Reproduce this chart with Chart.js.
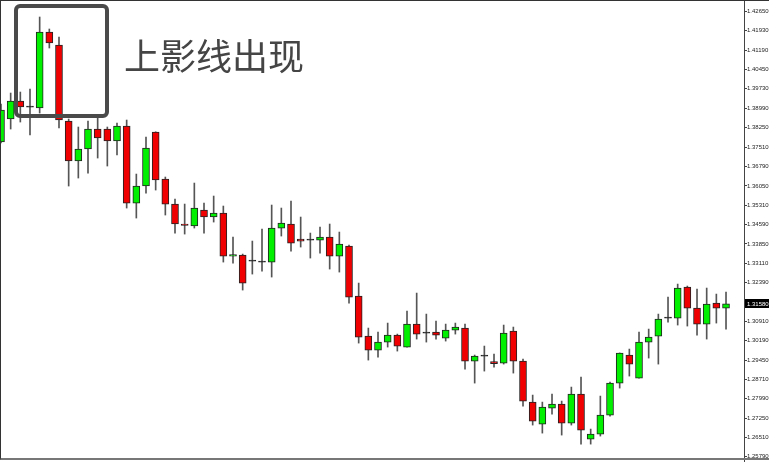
<!DOCTYPE html>
<html>
<head>
<meta charset="utf-8">
<script src="https://cdn.jsdelivr.net/npm/chart.js@4/dist/chart.umd.min.js"></script>
<style>
  html, body { margin: 0; padding: 0; background: #fff; }
  #wrap { position: relative; width: 769px; height: 462px; overflow: hidden; }
  #frame { position: absolute; left: 0; top: 0; width: 769px; height: 460px; box-sizing: border-box;
           border-left: 1px solid #333; border-top: 1px solid #333; border-bottom: 2px solid #777; pointer-events: none; }
  #box { position: absolute; left: 14px; top: 4px; width: 95px; height: 114px; box-sizing: border-box;
         border: 4px solid #4a4a4a; border-radius: 6px; }
  #note { position: absolute; left: 124px; top: 36px; font: 400 36px/1 "Noto Sans CJK SC", sans-serif; color: #454545; white-space: nowrap; }
</style>
</head>
<body>
<div id="wrap">
  <canvas id="chart" width="769" height="462"></canvas>
  <div id="box"></div>
  <div id="note">上影线出现</div>
  <div id="frame"></div>
</div>
<script>
const opens  = [1.37711, 1.38583, 1.39265, 1.39035, 1.39000, 1.41880, 1.41388, 1.38507, 1.36991, 1.37446,
                1.38204, 1.38204, 1.37749, 1.38318, 1.35399, 1.36044, 1.38090, 1.36309, 1.35361, 1.34604,
                1.34528, 1.35134, 1.34869, 1.35020, 1.33391, 1.33429, 1.33201, 1.33163, 1.33163, 1.34452,
                1.34604, 1.34035, 1.33997, 1.33997, 1.34111, 1.33391, 1.33770, 1.31875, 1.30359, 1.29828,
                1.30131, 1.30397, 1.29942, 1.30813, 1.30472, 1.30510, 1.30283, 1.30586, 1.30662, 1.29411,
                1.29601, 1.29392, 1.29335, 1.30548, 1.29411, 1.27857, 1.27023, 1.27630, 1.27781, 1.27061,
                1.28160, 1.26455, 1.26644, 1.27365, 1.28577, 1.29639, 1.28767, 1.30131, 1.30359, 1.31041,
                1.31041, 1.32216, 1.31420, 1.30813, 1.31609, 1.31420];
const highs  = [1.39151, 1.39568, 1.39606, 1.39720, 1.42449, 1.41994, 1.41691, 1.38583, 1.38280, 1.38507,
                1.38621, 1.38280, 1.38431, 1.38545, 1.36498, 1.37901, 1.38100, 1.36385, 1.35551, 1.35361,
                1.36157, 1.35399, 1.35665, 1.35286, 1.34111, 1.33466, 1.33959, 1.34414, 1.35324, 1.35210,
                1.35475, 1.34869, 1.34262, 1.34490, 1.34604, 1.34300, 1.33808, 1.32367, 1.30662, 1.30510,
                1.30851, 1.30434, 1.31306, 1.31988, 1.31192, 1.30927, 1.30813, 1.30851, 1.30813, 1.29639,
                1.29980, 1.29676, 1.30776, 1.30700, 1.29487, 1.28123, 1.27857, 1.28160, 1.27895, 1.28426,
                1.28805, 1.26834, 1.28085, 1.28615, 1.29720, 1.29866, 1.30510, 1.30624, 1.31192, 1.31837,
                1.32329, 1.32254, 1.32140, 1.32178, 1.31950, 1.32026];
const lows   = [1.37673, 1.38204, 1.38469, 1.37977, 1.38810, 1.41274, 1.38242, 1.36044, 1.36347, 1.36536,
                1.37105, 1.36802, 1.37219, 1.35210, 1.34831, 1.35778, 1.35892, 1.34945, 1.34262, 1.34224,
                1.34452, 1.34262, 1.34679, 1.33163, 1.33125, 1.32102, 1.32708, 1.32822, 1.32595, 1.34149,
                1.33580, 1.33732, 1.33315, 1.33504, 1.32898, 1.32784, 1.31609, 1.30093, 1.29449, 1.29563,
                1.29942, 1.29790, 1.29942, 1.30245, 1.30131, 1.30245, 1.30169, 1.30434, 1.29108, 1.28577,
                1.29032, 1.29184, 1.29297, 1.28956, 1.27706, 1.26986, 1.26682, 1.27402, 1.26607, 1.26986,
                1.26265, 1.26265, 1.26569, 1.27327, 1.28388, 1.28843, 1.28767, 1.29525, 1.29297, 1.30889,
                1.30776, 1.30738, 1.30397, 1.30245, 1.30851, 1.30624];
const closes = [1.38924, 1.39265, 1.39038, 1.39035, 1.41880, 1.41463, 1.38545, 1.36991, 1.37446, 1.38204,
                1.37863, 1.37749, 1.38318, 1.35399, 1.36044, 1.37484, 1.36271, 1.35361, 1.34604, 1.34547,
                1.35210, 1.34869, 1.35020, 1.33391, 1.33448, 1.32367, 1.33201, 1.33163, 1.34452, 1.34641,
                1.33883, 1.33959, 1.33997, 1.34111, 1.33391, 1.33845, 1.31837, 1.30321, 1.29828, 1.30131,
                1.30397, 1.29980, 1.30813, 1.30434, 1.30472, 1.30397, 1.30586, 1.30700, 1.29411, 1.29601,
                1.29601, 1.29316, 1.30472, 1.29411, 1.27895, 1.27137, 1.27668, 1.27781, 1.27061, 1.28160,
                1.26796, 1.26644, 1.27365, 1.28577, 1.29714, 1.29297, 1.30131, 1.30321, 1.31003, 1.31041,
                1.32178, 1.31420, 1.30813, 1.31571, 1.31420, 1.31580];
const yTicks = [1.42650, 1.41930, 1.41190, 1.40450, 1.39730, 1.38990, 1.38250, 1.37510, 1.36790, 1.36050,
                1.35310, 1.34590, 1.33850, 1.33110, 1.32390, 1.30910, 1.30190, 1.29450, 1.28710, 1.27990,
                1.27250, 1.26510, 1.25790];
const lastPrice = 1.31580;

const bodyColor = (o, c) => c > o ? '#00f000' : (c < o ? '#f00000' : '#222');

const wickData = highs.map((h, i) => ({ x: i, y: [lows[i], h] }));
const bodyData = closes.map((c, i) => ({ x: i, y: [opens[i], c] }));

const labelFont = '"Liberation Sans", Arial, sans-serif';

const priceTag = {
  id: 'priceTag',
  afterDraw(chart) {
    const ctx = chart.ctx;
    const y = Math.round(chart.scales.y.getPixelForValue(lastPrice));
    const x = chart.chartArea.right + 1;
    ctx.save();
    ctx.fillStyle = '#000';
    ctx.fillRect(x, y - 5, 24, 9);
    ctx.fillStyle = '#fff';
    ctx.font = '6px ' + labelFont;
    ctx.textBaseline = 'middle';
    ctx.fillText(lastPrice.toFixed(5), x + 2, y);
    ctx.restore();
  }
};

new Chart(document.getElementById('chart'), {
  type: 'bar',
  data: {
    datasets: [
      {
        data: bodyData,
        order: 0,
        grouped: false,
        barThickness: 7,
        minBarLength: 1,
        backgroundColor: bodyData.map(d => bodyColor(d.y[0], d.y[1])),
        borderColor: '#222',
        borderWidth: 1,
        borderSkipped: false
      },
      {
        data: wickData,
        order: 1,
        grouped: false,
        barThickness: 1,
        backgroundColor: '#555',
        borderWidth: 0
      }
    ]
  },
  options: {
    responsive: false,
    animation: false,
    events: [],
    layout: { padding: 0 },
    plugins: { legend: { display: false }, tooltip: { enabled: false } },
    scales: {
      x: {
        type: 'linear',
        display: false,
        offset: false,
        min: -0.103,
        max: 76.86
      },
      y: {
        type: 'linear',
        position: 'right',
        min: 1.255868,
        max: 1.430934,
        afterBuildTicks: s => { s.ticks = yTicks.map(v => ({ value: v })); },
        afterFit: s => { s.width = 25; s.paddingTop = 0; s.paddingBottom = 0; },
        border: { display: true, color: '#444', width: 1 },
        grid: { drawOnChartArea: false, drawTicks: true, tickLength: 3, tickColor: '#444' },
        ticks: {
          padding: 0,
          color: '#222',
          font: { family: labelFont, size: 6 },
          callback: v => Number(v).toFixed(5)
        }
      }
    }
  },
  plugins: [priceTag]
});
</script>
</body>
</html>
